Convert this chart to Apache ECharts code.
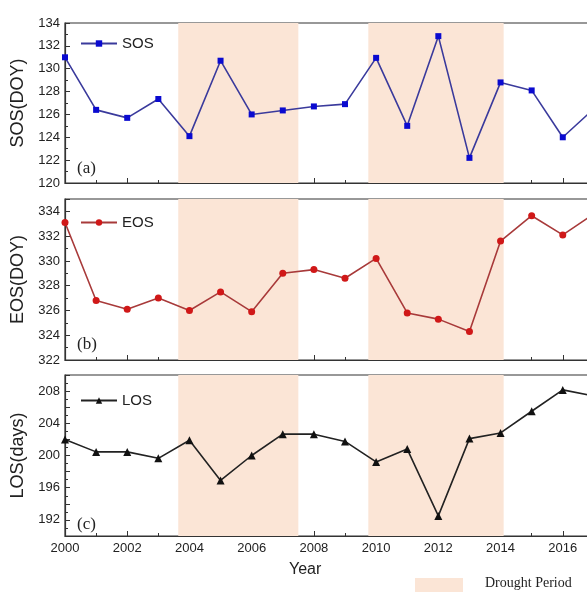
<!DOCTYPE html>
<html>
<head>
<meta charset="utf-8">
<script src="https://cdn.jsdelivr.net/npm/echarts@6/dist/echarts.min.js"></script>
<style>
html,body{margin:0;padding:0;background:#fff;overflow:hidden;width:587px;height:592px;}
#chart{width:640px;height:592px;}
</style>
</head>
<body>
<div id="chart"></div>
<script>
const years = [2000,2001,2002,2003,2004,2005,2006,2007,2008,2009,2010,2011,2012,2013,2014,2015,2016,2017];
const sosValues = [131.0,126.4,125.7,127.35,124.1,130.7,126.0,126.35,126.7,126.9,130.95,125.0,132.85,122.2,128.8,128.1,124.0,126.5];
const eosValues = [333.1,326.8,326.1,327.0,326.0,327.5,325.9,329.0,329.3,328.6,330.2,325.8,325.3,324.3,331.6,333.65,332.1,333.8];
const losValues = [202.0,200.45,200.45,199.65,201.9,196.9,200.0,202.65,202.65,201.75,199.2,200.8,192.5,202.1,202.8,205.5,208.15,207.4];
const droughtPeriods = [[2003.64,2007.5],[2009.75,2014.1]];
const xTickLabels = [2000,2002,2004,2006,2008,2010,2012,2014,2016];

const FONT = 'Liberation Sans, Arial, sans-serif';
const SERIF = 'Liberation Serif, Times New Roman, serif';
const shade = '#fbe5d6';
const frame = '#333';

const grids = [
  {left:65, top:23, width:560, height:160},
  {left:65, top:199, width:560, height:161},
  {left:65, top:375, width:560, height:161}
].map(g => Object.assign(g, {show:true, borderColor:frame, borderWidth:1.2, backgroundColor:'transparent'}));

function xAx(i, showLabels){
  return {
    type:'value', gridIndex:i, min:2000, max:2018, interval:2,
    axisLine:{show:true, lineStyle:{color:frame, width:1.2}},
    axisTick:{show:true, inside:true, length:5, lineStyle:{color:frame}},
    minorTick:{show:true, splitNumber:2, length:3, lineStyle:{color:frame}},
    splitLine:{show:false},
    axisLabel:{show:showLabels, color:'#222', fontFamily:FONT, fontSize:13, margin:6,
      formatter: v => xTickLabels.includes(v) ? String(v) : ''}
  };
}
function yAx(i, min, max, step, labelBase, labelStep, name){
  return {
    type:'value', gridIndex:i, min:min, max:max, interval:step,
    name:name, nameLocation:'middle', nameGap:33,
    nameTextStyle:{fontFamily:FONT, fontSize:18, color:'#222'},
    axisLine:{show:true, lineStyle:{color:frame, width:1.2}},
    axisTick:{show:true, inside:true, length:5, lineStyle:{color:frame}},
    minorTick:{show:true, splitNumber:2, length:3, lineStyle:{color:frame}},
    splitLine:{show:false},
    axisLabel:{color:'#222', fontFamily:FONT, fontSize:13, margin:5, showMaxLabel:true,
      formatter: v => (Math.abs(((v-labelBase)%labelStep))<1e-9 && v<=max && v>=min) ? String(v) : ''}
  };
}

const markAreaData = droughtPeriods.map(p => [{xAxis:p[0]},{xAxis:p[1]}]);

function mkSeries(name, i, vals, color, lineColor, symbol, size){
  return {
    name:name, type:'line', xAxisIndex:i, yAxisIndex:i,
    data: years.map((y,k)=>[y, vals[k]]),
    symbol:symbol, symbolSize:size, showSymbol:true,
    lineStyle:{color:lineColor, width:1.6},
    itemStyle:{color:color},
    emphasis:{disabled:true},
    z:3,
    markArea:{silent:true, itemStyle:{color:shade}, data:markAreaData, z:1}
  };
}

function legendAt(top, name){
  return {
    data:[name], left:80, top:top, padding:0, itemWidth:36, itemHeight:8, itemGap:4,
    textStyle:{fontFamily:FONT, fontSize:15, color:'#222'},
    selectedMode:false
  };
}

const option = {
  animation:false,
  backgroundColor:'#fff',
  grid: grids,
  xAxis: [xAx(0,false), xAx(1,false), xAx(2,true)],
  yAxis: [
    yAx(0,120,134,2,120,2,'SOS(DOY)'),
    yAx(1,322,335,2,322,2,'EOS(DOY)'),
    yAx(2,190,210,2,192,4,'LOS(days)')
  ],
  legend: [legendAt(36,'SOS'), legendAt(215,'EOS'), legendAt(393,'LOS')],
  series: [
    mkSeries('SOS',0,sosValues,'#0a0ad0','#3a3a9c','rect',6),
    mkSeries('EOS',1,eosValues,'#d01818','#a83a3a','circle',7),
    mkSeries('LOS',2,losValues,'#111','#222','triangle',8)
  ],
  graphic: [
    {type:'text', left:77, top:160, style:{text:'(a)', font:'17px '+SERIF, fill:'#222'}},
    {type:'text', left:77, top:336, style:{text:'(b)', font:'17px '+SERIF, fill:'#222'}},
    {type:'text', left:77, top:516, style:{text:'(c)', font:'17px '+SERIF, fill:'#222'}},
    {type:'text', left:289, top:562, style:{text:'Year', font:'16px '+FONT, fill:'#222'}},
    {type:'rect', shape:{x:415, y:578, width:48, height:16}, style:{fill:shade}},
    {type:'text', left:485, top:576, style:{text:'Drought Period', font:'14px '+SERIF, fill:'#222'}}
  ]
};

const chart = echarts.init(document.getElementById('chart'), null, {renderer:'canvas'});
chart.setOption(option);
</script>
</body>
</html>
